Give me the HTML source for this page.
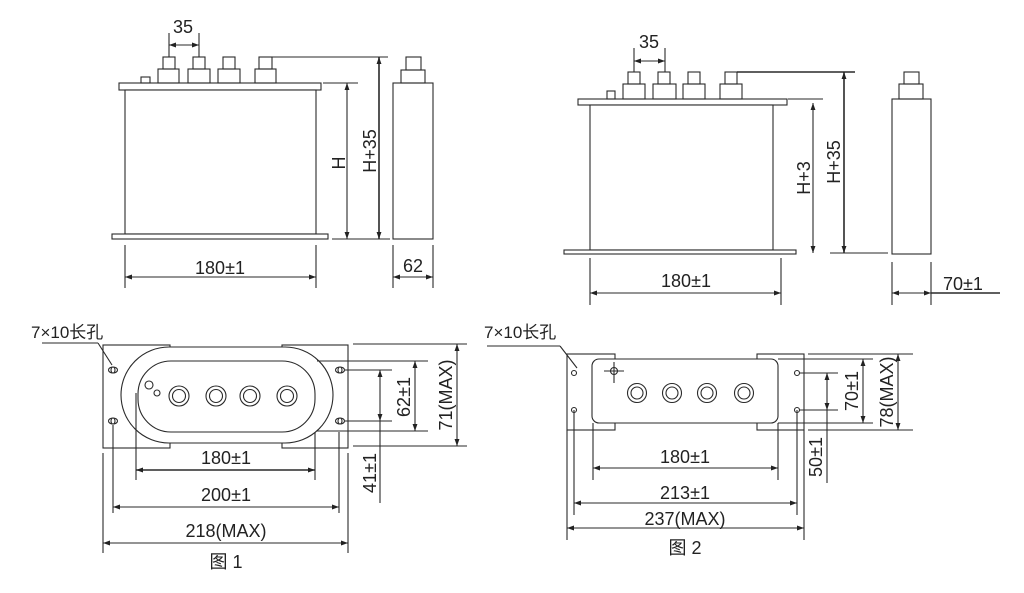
<!DOCTYPE html>
<html><head><meta charset="utf-8"><style>
html,body{margin:0;padding:0;background:#fff;}
svg{display:block;}
text{font-family:"Liberation Sans","Noto Sans CJK SC",sans-serif;fill:#222;}
</style></head><body>
<svg width="1024" height="593" viewBox="0 0 1024 593" xmlns="http://www.w3.org/2000/svg">
<defs>
<marker id="a" viewBox="0 0 10 10" refX="10" refY="5" markerWidth="7" markerHeight="7" orient="auto-start-reverse" markerUnits="userSpaceOnUse"><path d="M0,1.5 L10,5 L0,8.5 z" fill="#222"/></marker>
</defs>
<g fill="none" stroke="#2a2a2a" stroke-width="1.1">
<!-- FIG1 side -->
<rect x="119" y="83" width="202" height="7" fill="#fff"/>
<rect x="125" y="90" width="191" height="144" fill="#fff"/>
<rect x="112" y="234" width="216" height="5" fill="#fff"/>
<rect x="141" y="77" width="9" height="6"/>
<rect x="158" y="69" width="21" height="14"/><rect x="163" y="57" width="12" height="12"/>
<rect x="188" y="69" width="22" height="14"/><rect x="193" y="57" width="12" height="12"/>
<rect x="218" y="69" width="22" height="14"/><rect x="223" y="57" width="12" height="12"/>
<rect x="255" y="69" width="21" height="14"/><rect x="259" y="57" width="13" height="12"/>
<line x1="169" y1="33" x2="169" y2="57"/><line x1="199" y1="33" x2="199" y2="57"/>
<line x1="169" y1="45" x2="199" y2="45" marker-start="url(#a)" marker-end="url(#a)"/>
<line x1="272" y1="57" x2="388" y2="57"/>
<line x1="379" y1="57" x2="379" y2="239" stroke-width="1.6" marker-start="url(#a)" marker-end="url(#a)"/>
<line x1="323" y1="83" x2="358" y2="83"/>
<line x1="347" y1="83" x2="347" y2="239" marker-start="url(#a)" marker-end="url(#a)"/>
<line x1="332" y1="239" x2="390" y2="239"/>
<rect x="393" y="83" width="40" height="156"/>
<rect x="401" y="70" width="24" height="13"/><rect x="406" y="57" width="15" height="13"/>
<line x1="393" y1="245" x2="393" y2="288"/><line x1="433" y1="245" x2="433" y2="288"/>
<line x1="393" y1="277" x2="433" y2="277" marker-start="url(#a)" marker-end="url(#a)"/>
<line x1="125" y1="245" x2="125" y2="288"/><line x1="316" y1="245" x2="316" y2="288"/>
<line x1="125" y1="277" x2="316" y2="277" marker-start="url(#a)" marker-end="url(#a)"/>

<!-- FIG2 side -->
<rect x="578" y="99" width="209" height="6" fill="#fff"/>
<rect x="590" y="105" width="183" height="145" fill="#fff"/>
<rect x="564" y="250" width="232" height="4" fill="#fff"/>
<rect x="607" y="91" width="8" height="8"/>
<rect x="623" y="84" width="22" height="15"/><rect x="628" y="72" width="12" height="12"/>
<rect x="653" y="84" width="23" height="15"/><rect x="658" y="72" width="12" height="12"/>
<rect x="683" y="84" width="22" height="15"/><rect x="688" y="72" width="12" height="12"/>
<rect x="720" y="84" width="22" height="15"/><rect x="725" y="72" width="12" height="12"/>
<line x1="634" y1="48" x2="634" y2="72"/><line x1="665" y1="48" x2="665" y2="72"/>
<line x1="634" y1="61" x2="665" y2="61" marker-start="url(#a)" marker-end="url(#a)"/>
<line x1="737" y1="72" x2="855" y2="72" stroke-width="1.6"/>
<line x1="844" y1="72" x2="844" y2="253" stroke-width="1.6" marker-start="url(#a)" marker-end="url(#a)"/>
<line x1="788" y1="99" x2="823" y2="99"/>
<line x1="813" y1="103" x2="813" y2="253" marker-start="url(#a)" marker-end="url(#a)"/>
<line x1="830" y1="253" x2="888" y2="253"/>
<rect x="892" y="99" width="39" height="155"/>
<rect x="899" y="84" width="24" height="15"/><rect x="904" y="72" width="15" height="12"/>
<line x1="892" y1="262" x2="892" y2="305"/><line x1="931" y1="262" x2="931" y2="305"/>
<line x1="892" y1="293" x2="931" y2="293" marker-start="url(#a)" marker-end="url(#a)"/>
<line x1="931" y1="293" x2="1000" y2="293" stroke-width="1.6"/>
<line x1="590" y1="258" x2="590" y2="305"/><line x1="781" y1="258" x2="781" y2="305"/>
<line x1="590" y1="293" x2="781" y2="293" marker-start="url(#a)" marker-end="url(#a)"/>

<!-- FIG1 top -->
<line x1="42" y1="343" x2="98" y2="343"/><line x1="98" y1="343" x2="112" y2="365"/>
<rect x="103" y="345" width="67" height="103"/>
<rect x="282" y="345" width="66" height="103"/>
<rect x="121" y="347" width="212" height="96" rx="48" ry="48" fill="#fff"/>
<rect x="138" y="361" width="177" height="71" rx="33" ry="33" fill="#fff"/>
<ellipse cx="113" cy="370" rx="4.5" ry="3"/><ellipse cx="113" cy="370" rx="2" ry="3"/>
<ellipse cx="113" cy="421" rx="4.5" ry="3"/><ellipse cx="113" cy="421" rx="2" ry="3"/>
<ellipse cx="340" cy="370" rx="4.5" ry="3"/><ellipse cx="340" cy="370" rx="2" ry="3"/>
<ellipse cx="340" cy="421" rx="4.5" ry="3"/><ellipse cx="340" cy="421" rx="2" ry="3"/>
<circle cx="149" cy="385" r="4"/><circle cx="157" cy="393" r="3"/>
<circle cx="179" cy="396" r="10"/><circle cx="179" cy="396" r="6.5"/>
<circle cx="216" cy="396" r="10"/><circle cx="216" cy="396" r="6.5"/>
<circle cx="250" cy="396" r="10"/><circle cx="250" cy="396" r="6.5"/>
<circle cx="287" cy="396" r="10"/><circle cx="287" cy="396" r="6.5"/>
<line x1="136" y1="393" x2="136" y2="480"/><line x1="315" y1="432" x2="315" y2="480"/>
<line x1="136" y1="470" x2="315" y2="470" stroke-width="1.4" marker-start="url(#a)" marker-end="url(#a)"/>
<line x1="113" y1="425" x2="113" y2="513"/><line x1="339" y1="432" x2="339" y2="513"/>
<line x1="113" y1="507" x2="339" y2="507" marker-start="url(#a)" marker-end="url(#a)"/>
<line x1="103" y1="453" x2="103" y2="553"/><line x1="348" y1="453" x2="348" y2="553"/>
<line x1="103" y1="543" x2="348" y2="543" marker-start="url(#a)" marker-end="url(#a)"/>
<line x1="353" y1="344" x2="467" y2="344"/><line x1="353" y1="446" x2="467" y2="446"/>
<line x1="457" y1="344" x2="457" y2="446" marker-start="url(#a)" marker-end="url(#a)"/>
<line x1="317" y1="361" x2="428" y2="361"/><line x1="317" y1="431" x2="428" y2="431"/>
<line x1="415" y1="361" x2="415" y2="431" marker-start="url(#a)" marker-end="url(#a)"/>
<line x1="345" y1="370" x2="392" y2="370"/><line x1="345" y1="421" x2="392" y2="421"/>
<line x1="380" y1="370" x2="380" y2="421" marker-start="url(#a)" marker-end="url(#a)"/>
<line x1="380" y1="421" x2="380" y2="503"/>

<!-- FIG2 top -->
<line x1="487" y1="346" x2="560" y2="346"/><line x1="560" y1="346" x2="577" y2="368"/>
<rect x="567" y="354" width="48" height="76"/>
<rect x="757" y="354" width="47" height="76"/>
<rect x="592" y="359" width="186" height="64" rx="7" ry="7" fill="#fff"/>
<circle cx="574" cy="373" r="2.5"/><circle cx="574" cy="410" r="2.5"/>
<circle cx="797" cy="373" r="2.5"/><circle cx="797" cy="410" r="2.5"/>
<circle cx="614" cy="371" r="3.5"/><line x1="604" y1="371" x2="624" y2="371"/><line x1="614" y1="362" x2="614" y2="383"/>
<circle cx="637" cy="393" r="9.5"/><circle cx="637" cy="393" r="6"/>
<circle cx="672" cy="393" r="9.5"/><circle cx="672" cy="393" r="6"/>
<circle cx="707" cy="393" r="9.5"/><circle cx="707" cy="393" r="6"/>
<circle cx="744" cy="393" r="9.5"/><circle cx="744" cy="393" r="6"/>
<line x1="593" y1="423" x2="593" y2="480"/><line x1="778" y1="423" x2="778" y2="480"/>
<line x1="593" y1="468" x2="778" y2="468" marker-start="url(#a)" marker-end="url(#a)"/>
<line x1="574" y1="410" x2="574" y2="515"/><line x1="797" y1="410" x2="797" y2="515"/>
<line x1="574" y1="503" x2="797" y2="503" marker-start="url(#a)" marker-end="url(#a)"/>
<line x1="567" y1="430" x2="567" y2="540"/><line x1="804" y1="430" x2="804" y2="540"/>
<line x1="567" y1="528" x2="804" y2="528" marker-start="url(#a)" marker-end="url(#a)"/>
<line x1="808" y1="354" x2="913" y2="354"/><line x1="808" y1="430" x2="913" y2="430"/>
<line x1="898" y1="354" x2="898" y2="430" marker-start="url(#a)" marker-end="url(#a)"/>
<line x1="778" y1="359" x2="873" y2="359"/><line x1="778" y1="423" x2="873" y2="423"/>
<line x1="863" y1="359" x2="863" y2="423" marker-start="url(#a)" marker-end="url(#a)"/>
<line x1="800" y1="373" x2="838" y2="373"/><line x1="800" y1="410" x2="838" y2="410"/>
<line x1="827" y1="373" x2="827" y2="410" marker-start="url(#a)" marker-end="url(#a)"/>
<line x1="827" y1="410" x2="827" y2="483"/>
</g>
<g font-size="18" text-anchor="middle">
<text x="183" y="33">35</text>
<text x="220" y="274">180±1</text>
<text x="413" y="272">62</text>
<text transform="translate(345,163) rotate(-90)">H</text>
<text transform="translate(376,151) rotate(-90)">H+35</text>
<text x="649" y="48">35</text>
<text x="686" y="287">180±1</text>
<text x="963" y="290">70±1</text>
<text transform="translate(810,178) rotate(-90)">H+3</text>
<text transform="translate(840,162) rotate(-90)">H+35</text>
<text x="226" y="464">180±1</text>
<text x="226" y="501">200±1</text>
<text x="226" y="537">218(MAX)</text>
<text x="226" y="568">图 1</text>
<text transform="translate(452,395) rotate(-90)">71(MAX)</text>
<text transform="translate(410,397) rotate(-90)">62±1</text>
<text transform="translate(376,473) rotate(-90)">41±1</text>
<text x="685" y="463">180±1</text>
<text x="685" y="499">213±1</text>
<text x="685" y="525">237(MAX)</text>
<text x="685" y="554">图 2</text>
<text transform="translate(893,392) rotate(-90)">78(MAX)</text>
<text transform="translate(858,391) rotate(-90)">70±1</text>
<text transform="translate(822,457) rotate(-90)">50±1</text>
</g>
<g font-size="17">
<text x="31" y="338">7×10长孔</text>
<text x="484" y="338">7×10长孔</text>
</g>
</svg>
</body></html>
